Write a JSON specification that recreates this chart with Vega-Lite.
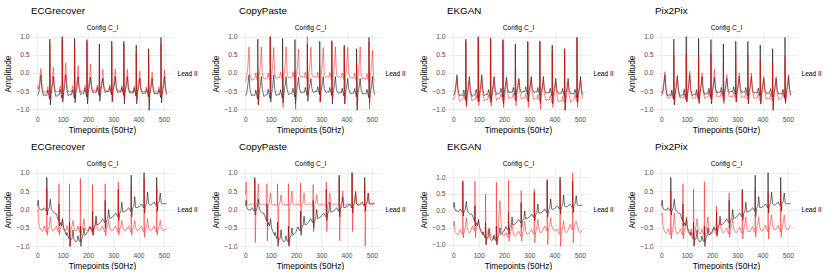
{
"$schema":"https://vega.github.io/schema/vega-lite/v6.json",
"padding":{"left":3,"top":6,"right":0,"bottom":0},
"datasets":{
"top":[
{"x":0,"g":-0.62,"e":-0.35,"c":-0.25,"k":-0.75,"p":-0.5},
{"x":2,"g":-0.6,"e":-0.45,"c":-0.2,"k":-0.7,"p":-0.55},
{"x":5,"g":-0.55,"e":-0.4,"c":-0.1,"k":-0.65,"p":-0.5},
{"x":10,"g":-0.3,"e":-0.1,"c":0.2,"k":-0.4,"p":-0.2},
{"x":14,"g":-0.05,"e":0.12,"c":0.72,"k":-0.15,"p":0.03},
{"x":18,"g":-0.45,"e":-0.35,"c":-0.05,"k":-0.55,"p":-0.5},
{"x":24,"g":-0.63,"e":-0.55,"c":-0.2,"k":-0.78,"p":-0.7},
{"x":30,"g":-0.6,"e":-0.52,"c":-0.18,"k":-0.75,"p":-0.68},
{"x":37,"g":-0.62,"e":-0.53,"c":-0.17,"k":-0.72,"p":-0.68},
{"x":41,"g":-0.47,"e":-0.38,"c":0.0,"k":-0.6,"p":-0.53},
{"x":45,"g":-0.62,"e":-0.53,"c":-0.17,"k":-0.72,"p":-0.68},
{"x":48,"g":-0.72,"e":-0.55,"c":-0.22,"k":-0.77,"p":-0.73},
{"x":49,"g":0.93,"e":0.8,"c":0.0,"k":0.85,"p":0.48},
{"x":51,"g":-0.88,"e":-0.7,"c":-0.85,"k":-0.95,"p":-0.85},
{"x":54,"g":-0.6,"e":-0.45,"c":-0.1,"k":-0.72,"p":-0.63},
{"x":59,"g":-0.35,"e":-0.2,"c":0.2,"k":-0.45,"p":-0.3},
{"x":63,"g":-0.1,"e":0.15,"c":0.72,"k":-0.2,"p":-0.05},
{"x":67,"g":-0.45,"e":-0.35,"c":-0.05,"k":-0.55,"p":-0.5},
{"x":73,"g":-0.65,"e":-0.53,"c":-0.17,"k":-0.77,"p":-0.68},
{"x":79,"g":-0.61,"e":-0.5,"c":-0.15,"k":-0.72,"p":-0.67},
{"x":86,"g":-0.6,"e":-0.52,"c":-0.15,"k":-0.73,"p":-0.7},
{"x":90,"g":-0.45,"e":-0.36,"c":0.0,"k":-0.61,"p":-0.55},
{"x":94,"g":-0.6,"e":-0.52,"c":-0.15,"k":-0.73,"p":-0.7},
{"x":97,"g":-0.7,"e":-0.54,"c":-0.2,"k":-0.78,"p":-0.75},
{"x":98,"g":1.0,"e":0.9,"c":1.0,"k":0.95,"p":0.55},
{"x":100,"g":-0.8,"e":-0.68,"c":-0.5,"k":-0.9,"p":-0.8},
{"x":103,"g":-0.58,"e":-0.45,"c":-0.1,"k":-0.73,"p":-0.65},
{"x":108,"g":-0.35,"e":-0.15,"c":0.2,"k":-0.45,"p":-0.3},
{"x":112,"g":-0.05,"e":0.28,"c":0.7,"k":-0.12,"p":0.05},
{"x":116,"g":-0.45,"e":-0.3,"c":-0.05,"k":-0.55,"p":-0.5},
{"x":122,"g":-0.63,"e":-0.52,"c":-0.15,"k":-0.78,"p":-0.7},
{"x":128,"g":-0.59,"e":-0.5,"c":-0.13,"k":-0.73,"p":-0.69},
{"x":135,"g":-0.6,"e":-0.52,"c":-0.13,"k":-0.73,"p":-0.7},
{"x":139,"g":-0.46,"e":-0.36,"c":0.02,"k":-0.6,"p":-0.55},
{"x":143,"g":-0.6,"e":-0.52,"c":-0.13,"k":-0.73,"p":-0.7},
{"x":146,"g":-0.7,"e":-0.55,"c":-0.18,"k":-0.78,"p":-0.75},
{"x":147,"g":0.95,"e":0.8,"c":0.1,"k":0.98,"p":0.5},
{"x":149,"g":-0.82,"e":-0.7,"c":-0.95,"k":-0.92,"p":-0.85},
{"x":152,"g":-0.58,"e":-0.45,"c":-0.1,"k":-0.72,"p":-0.65},
{"x":157,"g":-0.35,"e":-0.2,"c":0.2,"k":-0.45,"p":-0.3},
{"x":161,"g":-0.1,"e":0.2,"c":0.72,"k":-0.15,"p":0.0},
{"x":165,"g":-0.45,"e":-0.35,"c":-0.05,"k":-0.55,"p":-0.5},
{"x":171,"g":-0.6,"e":-0.52,"c":-0.13,"k":-0.76,"p":-0.7},
{"x":177,"g":-0.56,"e":-0.5,"c":-0.12,"k":-0.7,"p":-0.66},
{"x":184,"g":-0.56,"e":-0.5,"c":-0.12,"k":-0.7,"p":-0.66},
{"x":188,"g":-0.42,"e":-0.34,"c":0.02,"k":-0.58,"p":-0.52},
{"x":192,"g":-0.56,"e":-0.5,"c":-0.12,"k":-0.7,"p":-0.66},
{"x":195,"g":-0.66,"e":-0.53,"c":-0.17,"k":-0.76,"p":-0.72},
{"x":196,"g":0.92,"e":0.85,"c":0.05,"k":0.9,"p":0.55},
{"x":198,"g":-0.85,"e":-0.72,"c":-1.0,"k":-0.95,"p":-0.8},
{"x":201,"g":-0.55,"e":-0.45,"c":-0.1,"k":-0.7,"p":-0.6},
{"x":206,"g":-0.33,"e":-0.18,"c":0.2,"k":-0.45,"p":-0.28},
{"x":210,"g":-0.12,"e":0.25,"c":0.65,"k":-0.2,"p":0.1},
{"x":214,"g":-0.43,"e":-0.33,"c":-0.05,"k":-0.53,"p":-0.45},
{"x":220,"g":-0.55,"e":-0.5,"c":-0.12,"k":-0.72,"p":-0.66},
{"x":226,"g":-0.53,"e":-0.48,"c":-0.1,"k":-0.68,"p":-0.64},
{"x":233,"g":-0.53,"e":-0.48,"c":-0.12,"k":-0.68,"p":-0.65},
{"x":237,"g":-0.4,"e":-0.33,"c":0.02,"k":-0.56,"p":-0.5},
{"x":241,"g":-0.53,"e":-0.48,"c":-0.12,"k":-0.68,"p":-0.65},
{"x":244,"g":-0.62,"e":-0.5,"c":-0.17,"k":-0.74,"p":-0.7},
{"x":245,"g":0.8,"e":0.6,"c":1.0,"k":0.73,"p":0.3},
{"x":247,"g":-0.78,"e":-0.65,"c":-0.6,"k":-0.9,"p":-0.85},
{"x":250,"g":-0.52,"e":-0.43,"c":-0.1,"k":-0.68,"p":-0.6},
{"x":255,"g":-0.33,"e":-0.22,"c":0.2,"k":-0.45,"p":-0.32},
{"x":259,"g":-0.15,"e":0.1,"c":0.72,"k":-0.2,"p":-0.05},
{"x":263,"g":-0.43,"e":-0.35,"c":-0.05,"k":-0.55,"p":-0.5},
{"x":269,"g":-0.54,"e":-0.5,"c":-0.12,"k":-0.72,"p":-0.66},
{"x":275,"g":-0.51,"e":-0.47,"c":-0.1,"k":-0.68,"p":-0.64},
{"x":282,"g":-0.52,"e":-0.48,"c":-0.12,"k":-0.7,"p":-0.66},
{"x":286,"g":-0.38,"e":-0.32,"c":0.02,"k":-0.57,"p":-0.52},
{"x":290,"g":-0.52,"e":-0.48,"c":-0.12,"k":-0.7,"p":-0.66},
{"x":293,"g":-0.6,"e":-0.5,"c":-0.17,"k":-0.75,"p":-0.7},
{"x":294,"g":0.87,"e":0.75,"c":0.2,"k":0.85,"p":0.52},
{"x":296,"g":-0.8,"e":-0.7,"c":-0.8,"k":-0.95,"p":-0.8},
{"x":299,"g":-0.5,"e":-0.43,"c":-0.1,"k":-0.7,"p":-0.6},
{"x":304,"g":-0.33,"e":-0.2,"c":0.2,"k":-0.45,"p":-0.3},
{"x":308,"g":-0.1,"e":0.12,"c":0.7,"k":-0.15,"p":0.0},
{"x":312,"g":-0.43,"e":-0.35,"c":-0.05,"k":-0.55,"p":-0.5},
{"x":318,"g":-0.54,"e":-0.5,"c":-0.12,"k":-0.74,"p":-0.68},
{"x":324,"g":-0.52,"e":-0.48,"c":-0.1,"k":-0.7,"p":-0.66},
{"x":330,"g":-0.53,"e":-0.5,"c":-0.12,"k":-0.72,"p":-0.68},
{"x":334,"g":-0.4,"e":-0.34,"c":0.02,"k":-0.6,"p":-0.53},
{"x":338,"g":-0.53,"e":-0.5,"c":-0.12,"k":-0.72,"p":-0.68},
{"x":341,"g":-0.62,"e":-0.52,"c":-0.17,"k":-0.77,"p":-0.73},
{"x":342,"g":0.87,"e":0.8,"c":0.9,"k":0.88,"p":0.5},
{"x":344,"g":-0.85,"e":-0.7,"c":-0.7,"k":-1.0,"p":-0.85},
{"x":347,"g":-0.52,"e":-0.45,"c":-0.1,"k":-0.72,"p":-0.62},
{"x":352,"g":-0.35,"e":-0.22,"c":0.2,"k":-0.47,"p":-0.32},
{"x":356,"g":-0.1,"e":0.1,"c":0.72,"k":-0.2,"p":0.0},
{"x":360,"g":-0.45,"e":-0.37,"c":-0.05,"k":-0.57,"p":-0.5},
{"x":366,"g":-0.56,"e":-0.52,"c":-0.12,"k":-0.76,"p":-0.7},
{"x":372,"g":-0.54,"e":-0.5,"c":-0.1,"k":-0.73,"p":-0.68},
{"x":379,"g":-0.55,"e":-0.52,"c":-0.13,"k":-0.75,"p":-0.7},
{"x":383,"g":-0.42,"e":-0.36,"c":0.0,"k":-0.62,"p":-0.55},
{"x":387,"g":-0.55,"e":-0.52,"c":-0.13,"k":-0.75,"p":-0.7},
{"x":390,"g":-0.64,"e":-0.55,"c":-0.18,"k":-0.8,"p":-0.75},
{"x":391,"g":0.77,"e":0.6,"c":0.7,"k":0.62,"p":0.35},
{"x":393,"g":-0.85,"e":-0.72,"c":-0.85,"k":-0.95,"p":-0.85},
{"x":396,"g":-0.55,"e":-0.47,"c":-0.1,"k":-0.75,"p":-0.65},
{"x":401,"g":-0.36,"e":-0.25,"c":0.2,"k":-0.5,"p":-0.35},
{"x":405,"g":-0.15,"e":0.05,"c":0.7,"k":-0.25,"p":-0.1},
{"x":409,"g":-0.45,"e":-0.38,"c":-0.05,"k":-0.6,"p":-0.52},
{"x":415,"g":-0.57,"e":-0.53,"c":-0.14,"k":-0.8,"p":-0.72},
{"x":421,"g":-0.55,"e":-0.5,"c":-0.12,"k":-0.77,"p":-0.7},
{"x":428,"g":-0.56,"e":-0.53,"c":-0.15,"k":-0.78,"p":-0.72},
{"x":432,"g":-0.43,"e":-0.38,"c":0.0,"k":-0.65,"p":-0.57},
{"x":436,"g":-0.56,"e":-0.53,"c":-0.15,"k":-0.78,"p":-0.72},
{"x":439,"g":-0.66,"e":-0.57,"c":-0.2,"k":-0.83,"p":-0.78},
{"x":440,"g":0.67,"e":0.55,"c":0.3,"k":0.65,"p":0.3},
{"x":442,"g":-1.03,"e":-0.8,"c":-0.9,"k":-1.02,"p":-0.95},
{"x":445,"g":-0.58,"e":-0.5,"c":-0.12,"k":-0.78,"p":-0.68},
{"x":450,"g":-0.38,"e":-0.28,"c":0.2,"k":-0.52,"p":-0.38},
{"x":454,"g":-0.15,"e":0.02,"c":0.72,"k":-0.25,"p":-0.1},
{"x":458,"g":-0.47,"e":-0.4,"c":-0.05,"k":-0.62,"p":-0.55},
{"x":464,"g":-0.58,"e":-0.55,"c":-0.17,"k":-0.8,"p":-0.74},
{"x":470,"g":-0.57,"e":-0.52,"c":-0.15,"k":-0.76,"p":-0.72},
{"x":477,"g":-0.58,"e":-0.53,"c":-0.18,"k":-0.72,"p":-0.68},
{"x":481,"g":-0.45,"e":-0.38,"c":-0.02,"k":-0.6,"p":-0.53},
{"x":485,"g":-0.58,"e":-0.53,"c":-0.18,"k":-0.72,"p":-0.68},
{"x":488,"g":-0.68,"e":-0.56,"c":-0.22,"k":-0.78,"p":-0.74},
{"x":489,"g":0.98,"e":0.8,"c":0.85,"k":0.97,"p":0.45},
{"x":491,"g":-0.82,"e":-0.7,"c":-1.0,"k":-0.95,"p":-0.85},
{"x":494,"g":-0.58,"e":-0.48,"c":-0.12,"k":-0.72,"p":-0.63},
{"x":499,"g":-0.35,"e":-0.22,"c":0.2,"k":-0.45,"p":-0.3},
{"x":503,"g":-0.1,"e":0.08,"c":0.62,"k":-0.2,"p":-0.05},
{"x":507,"g":-0.45,"e":-0.38,"c":-0.1,"k":-0.55,"p":-0.45},
{"x":511,"g":-0.6,"e":-0.55,"c":-0.22,"k":-0.7,"p":-0.6}
],
"bot":[
{"x":0,"g":0.1,"e":-0.05,"c":0.4,"k":-0.45,"p":-0.15},
{"x":3,"g":0.25,"e":0.0,"c":0.75,"k":-0.3,"p":-0.1},
{"x":6,"g":0.02,"e":-0.4,"c":0.15,"k":-0.6,"p":-0.45},
{"x":12,"g":0.0,"e":-0.55,"c":0.12,"k":-0.68,"p":-0.6},
{"x":20,"g":-0.02,"e":-0.6,"c":0.14,"k":-0.7,"p":-0.65},
{"x":27,"g":0.05,"e":-0.45,"c":0.15,"k":-0.55,"p":-0.53},
{"x":32,"g":-0.02,"e":-0.57,"c":0.12,"k":-0.65,"p":-0.65},
{"x":36,"g":-0.05,"e":-0.62,"c":0.1,"k":-0.7,"p":-0.7},
{"x":37,"g":0.87,"e":0.6,"c":0.8,"k":0.9,"p":0.5},
{"x":39,"g":-0.15,"e":-0.7,"c":-0.9,"k":-0.8,"p":-0.8},
{"x":42,"g":-0.02,"e":-0.55,"c":0.1,"k":-0.65,"p":-0.62},
{"x":47,"g":0.05,"e":-0.45,"c":0.2,"k":-0.5,"p":-0.45},
{"x":51,"g":0.28,"e":-0.2,"c":0.7,"k":-0.2,"p":-0.1},
{"x":55,"g":0.0,"e":-0.5,"c":0.15,"k":-0.55,"p":-0.55},
{"x":61,"g":-0.05,"e":-0.58,"c":0.12,"k":-0.65,"p":-0.65},
{"x":67,"g":-0.1,"e":-0.56,"c":0.14,"k":-0.63,"p":-0.65},
{"x":75,"g":-0.12,"e":-0.45,"c":0.15,"k":-0.45,"p":-0.53},
{"x":80,"g":-0.25,"e":-0.57,"c":0.12,"k":-0.55,"p":-0.65},
{"x":84,"g":-0.32,"e":-0.62,"c":0.1,"k":-0.6,"p":-0.7},
{"x":85,"g":0.15,"e":0.7,"c":0.7,"k":0.88,"p":0.7},
{"x":87,"g":-0.45,"e":-0.7,"c":-0.85,"k":-0.8,"p":-0.8},
{"x":90,"g":-0.35,"e":-0.55,"c":0.1,"k":-0.55,"p":-0.62},
{"x":95,"g":-0.45,"e":-0.45,"c":0.2,"k":-0.4,"p":-0.45},
{"x":99,"g":-0.25,"e":-0.3,"c":0.45,"k":-0.3,"p":-0.2},
{"x":103,"g":-0.5,"e":-0.5,"c":0.15,"k":-0.45,"p":-0.55},
{"x":109,"g":-0.6,"e":-0.58,"c":0.12,"k":-0.6,"p":-0.65},
{"x":115,"g":-0.7,"e":-0.56,"c":0.14,"k":-0.65,"p":-0.65},
{"x":117,"g":-0.62,"e":-0.45,"c":0.15,"k":-0.65,"p":-0.53},
{"x":122,"g":-0.75,"e":-0.57,"c":0.12,"k":-0.75,"p":-0.65},
{"x":126,"g":-0.8,"e":-0.62,"c":0.1,"k":-0.8,"p":-0.7},
{"x":127,"g":-0.35,"e":0.7,"c":0.7,"k":0.5,"p":0.55},
{"x":129,"g":-1.0,"e":-1.0,"c":-0.9,"k":-1.0,"p":-0.95},
{"x":132,"g":-0.8,"e":-0.55,"c":0.1,"k":-0.75,"p":-0.62},
{"x":137,"g":-0.8,"e":-0.45,"c":0.2,"k":-0.6,"p":-0.45},
{"x":141,"g":-0.55,"e":-0.3,"c":0.4,"k":-0.5,"p":-0.25},
{"x":145,"g":-0.82,"e":-0.5,"c":0.15,"k":-0.65,"p":-0.55},
{"x":151,"g":-0.88,"e":-0.58,"c":0.12,"k":-0.8,"p":-0.65},
{"x":157,"g":-0.85,"e":-0.56,"c":0.14,"k":-0.85,"p":-0.65},
{"x":160,"g":-0.72,"e":-0.45,"c":0.15,"k":-0.75,"p":-0.53},
{"x":165,"g":-0.85,"e":-0.57,"c":0.12,"k":-0.85,"p":-0.65},
{"x":169,"g":-0.88,"e":-0.62,"c":0.1,"k":-0.9,"p":-0.7},
{"x":170,"g":-0.45,"e":0.85,"c":0.7,"k":0.85,"p":0.75},
{"x":172,"g":-1.0,"e":-0.75,"c":-0.95,"k":-1.0,"p":-0.85},
{"x":175,"g":-0.8,"e":-0.55,"c":0.1,"k":-0.85,"p":-0.62},
{"x":180,"g":-0.72,"e":-0.45,"c":0.2,"k":-0.2,"p":-0.45},
{"x":184,"g":-0.5,"e":-0.25,"c":0.5,"k":0.3,"p":-0.2},
{"x":188,"g":-0.7,"e":-0.5,"c":0.15,"k":-0.3,"p":-0.55},
{"x":194,"g":-0.65,"e":-0.58,"c":0.12,"k":-0.7,"p":-0.65},
{"x":200,"g":-0.6,"e":-0.56,"c":0.14,"k":-0.75,"p":-0.65},
{"x":208,"g":-0.47,"e":-0.45,"c":0.15,"k":-0.65,"p":-0.5},
{"x":213,"g":-0.55,"e":-0.57,"c":0.12,"k":-0.75,"p":-0.62},
{"x":217,"g":-0.58,"e":-0.62,"c":0.1,"k":-0.8,"p":-0.67},
{"x":218,"g":-0.05,"e":0.68,"c":0.72,"k":0.9,"p":0.1},
{"x":220,"g":-0.7,"e":-0.7,"c":-0.5,"k":-0.9,"p":-0.75},
{"x":223,"g":-0.5,"e":-0.55,"c":0.1,"k":-0.75,"p":-0.59},
{"x":228,"g":-0.42,"e":-0.45,"c":0.2,"k":-0.6,"p":-0.42},
{"x":232,"g":-0.18,"e":-0.3,"c":0.45,"k":-0.35,"p":-0.3},
{"x":236,"g":-0.42,"e":-0.5,"c":0.15,"k":-0.65,"p":-0.52},
{"x":242,"g":-0.4,"e":-0.58,"c":0.12,"k":-0.75,"p":-0.62},
{"x":248,"g":-0.36,"e":-0.56,"c":0.14,"k":-0.73,"p":-0.62},
{"x":258,"g":-0.25,"e":-0.45,"c":0.15,"k":-0.6,"p":-0.5},
{"x":263,"g":-0.32,"e":-0.57,"c":0.12,"k":-0.7,"p":-0.62},
{"x":267,"g":-0.36,"e":-0.62,"c":0.1,"k":-0.75,"p":-0.67},
{"x":268,"g":0.25,"e":0.7,"c":0.68,"k":0.6,"p":0.45},
{"x":270,"g":-0.5,"e":-0.72,"c":-0.6,"k":-0.9,"p":-0.75},
{"x":273,"g":-0.3,"e":-0.55,"c":0.1,"k":-0.7,"p":-0.59},
{"x":278,"g":-0.25,"e":-0.45,"c":0.2,"k":-0.55,"p":-0.42},
{"x":282,"g":0.0,"e":-0.28,"c":0.4,"k":-0.3,"p":-0.25},
{"x":286,"g":-0.25,"e":-0.5,"c":0.15,"k":-0.6,"p":-0.52},
{"x":292,"g":-0.22,"e":-0.58,"c":0.12,"k":-0.7,"p":-0.62},
{"x":298,"g":-0.2,"e":-0.56,"c":0.14,"k":-0.68,"p":-0.62},
{"x":310,"g":-0.1,"e":-0.45,"c":0.15,"k":-0.55,"p":-0.48},
{"x":315,"g":-0.16,"e":-0.57,"c":0.12,"k":-0.65,"p":-0.6},
{"x":319,"g":-0.2,"e":-0.62,"c":0.1,"k":-0.7,"p":-0.65},
{"x":320,"g":0.55,"e":0.75,"c":0.75,"k":0.65,"p":0.45},
{"x":322,"g":-0.3,"e":-0.7,"c":-0.6,"k":-0.95,"p":-0.8},
{"x":325,"g":-0.12,"e":-0.55,"c":0.1,"k":-0.65,"p":-0.57},
{"x":330,"g":-0.05,"e":-0.45,"c":0.2,"k":-0.5,"p":-0.4},
{"x":334,"g":0.2,"e":-0.3,"c":0.45,"k":-0.25,"p":-0.2},
{"x":338,"g":-0.07,"e":-0.5,"c":0.15,"k":-0.55,"p":-0.5},
{"x":344,"g":-0.06,"e":-0.58,"c":0.12,"k":-0.65,"p":-0.6},
{"x":350,"g":-0.04,"e":-0.56,"c":0.14,"k":-0.63,"p":-0.6},
{"x":361,"g":0.05,"e":-0.45,"c":0.15,"k":-0.45,"p":-0.46},
{"x":366,"g":-0.01,"e":-0.57,"c":0.12,"k":-0.55,"p":-0.58},
{"x":370,"g":-0.05,"e":-0.62,"c":0.1,"k":-0.6,"p":-0.63},
{"x":371,"g":0.93,"e":0.62,"c":0.85,"k":0.85,"p":0.55},
{"x":373,"g":-0.2,"e":-0.7,"c":-0.85,"k":-1.0,"p":-0.75},
{"x":376,"g":0.02,"e":-0.55,"c":0.1,"k":-0.55,"p":-0.55},
{"x":381,"g":0.08,"e":-0.45,"c":0.2,"k":-0.4,"p":-0.38},
{"x":385,"g":0.35,"e":-0.3,"c":0.5,"k":-0.2,"p":-0.2},
{"x":389,"g":0.05,"e":-0.5,"c":0.15,"k":-0.45,"p":-0.48},
{"x":395,"g":0.05,"e":-0.58,"c":0.12,"k":-0.55,"p":-0.58},
{"x":401,"g":0.07,"e":-0.56,"c":0.14,"k":-0.6,"p":-0.58},
{"x":412,"g":0.15,"e":-0.45,"c":0.15,"k":-0.55,"p":-0.43},
{"x":417,"g":0.08,"e":-0.57,"c":0.12,"k":-0.65,"p":-0.55},
{"x":421,"g":0.04,"e":-0.62,"c":0.1,"k":-0.7,"p":-0.6},
{"x":422,"g":1.0,"e":0.85,"c":1.0,"k":0.9,"p":0.45},
{"x":424,"g":-0.1,"e":-0.75,"c":-0.6,"k":-1.05,"p":-0.8},
{"x":427,"g":0.1,"e":-0.55,"c":0.1,"k":-0.65,"p":-0.52},
{"x":432,"g":0.18,"e":-0.45,"c":0.2,"k":-0.5,"p":-0.35},
{"x":436,"g":0.47,"e":-0.25,"c":0.5,"k":-0.3,"p":-0.15},
{"x":440,"g":0.15,"e":-0.5,"c":0.15,"k":-0.55,"p":-0.45},
{"x":446,"g":0.12,"e":-0.58,"c":0.12,"k":-0.65,"p":-0.55},
{"x":452,"g":0.13,"e":-0.56,"c":0.14,"k":-0.6,"p":-0.55},
{"x":462,"g":0.2,"e":-0.45,"c":0.15,"k":-0.4,"p":-0.43},
{"x":467,"g":0.13,"e":-0.57,"c":0.12,"k":-0.5,"p":-0.55},
{"x":471,"g":0.1,"e":-0.62,"c":0.1,"k":-0.55,"p":-0.6},
{"x":472,"g":0.87,"e":0.6,"c":0.7,"k":1.13,"p":0.5},
{"x":474,"g":-0.05,"e":-0.7,"c":-1.0,"k":-0.95,"p":-0.75},
{"x":477,"g":0.15,"e":-0.55,"c":0.1,"k":-0.5,"p":-0.52},
{"x":482,"g":0.22,"e":-0.45,"c":0.2,"k":-0.35,"p":-0.35},
{"x":486,"g":0.45,"e":-0.3,"c":0.45,"k":-0.3,"p":-0.15},
{"x":490,"g":0.17,"e":-0.5,"c":0.15,"k":-0.45,"p":-0.45},
{"x":496,"g":0.15,"e":-0.58,"c":0.12,"k":-0.6,"p":-0.55},
{"x":502,"g":0.16,"e":-0.56,"c":0.14,"k":-0.65,"p":-0.55},
{"x":511,"g":0.17,"e":-0.52,"c":0.15,"k":-0.55,"p":-0.42}
]
},
"vconcat":[
{"spacing":13,"hconcat":[
{"title":{"text":"ECGrecover"},"data":{"name":"top"},"width":142,"height":81,"layer":[
{"mark":{"type":"line","color":"#000000","opacity":0.7},"encoding":{"x":{"field":"x","type":"quantitative","scale":{"domain":[-25.5,536.5],"nice":false,"zero":false},"axis":{"orient":"bottom","values":[0,100,200,300,400,500],"title":"Timepoints (50Hz)"}},"y":{"field":"g","type":"quantitative","scale":{"domain":[-1.13,1.1],"nice":false,"zero":false},"axis":{"orient":"left","values":[-1,-0.5,0,0.5,1],"format":".1f","title":"Amplitude"}}}},
{"mark":{"type":"line","color":"#ff0000","opacity":0.6},"encoding":{"x":{"field":"x","type":"quantitative","scale":{"domain":[-25.5,536.5],"nice":false,"zero":false},"axis":{"orient":"top","values":[50,150,250,350,450],"labels":false,"gridWidth":0.5,"title":"Config C_I","titleFontSize":6.7,"titlePadding":3}},"y":{"field":"e","type":"quantitative","scale":{"domain":[-1.13,1.1],"nice":false,"zero":false},"axis":{"orient":"right","values":[-0.75,-0.25,0.25,0.75],"labels":false,"gridWidth":0.5,"title":"Lead II","titleAngle":0,"titleAlign":"left","titleBaseline":"middle","titleFontSize":6.6,"titlePadding":4}}}}
],"resolve":{"axis":{"x":"independent","y":"independent"}}},
{"title":{"text":"CopyPaste"},"data":{"name":"top"},"width":142,"height":81,"layer":[
{"mark":{"type":"line","color":"#000000","opacity":0.7},"encoding":{"x":{"field":"x","type":"quantitative","scale":{"domain":[-25.5,536.5],"nice":false,"zero":false},"axis":{"orient":"bottom","values":[0,100,200,300,400,500],"title":"Timepoints (50Hz)"}},"y":{"field":"g","type":"quantitative","scale":{"domain":[-1.13,1.1],"nice":false,"zero":false},"axis":{"orient":"left","values":[-1,-0.5,0,0.5,1],"format":".1f","title":"Amplitude"}}}},
{"mark":{"type":"line","color":"#ff0000","opacity":0.6},"encoding":{"x":{"field":"x","type":"quantitative","scale":{"domain":[-25.5,536.5],"nice":false,"zero":false},"axis":{"orient":"top","values":[50,150,250,350,450],"labels":false,"gridWidth":0.5,"title":"Config C_I","titleFontSize":6.7,"titlePadding":3}},"y":{"field":"c","type":"quantitative","scale":{"domain":[-1.13,1.1],"nice":false,"zero":false},"axis":{"orient":"right","values":[-0.75,-0.25,0.25,0.75],"labels":false,"gridWidth":0.5,"title":"Lead II","titleAngle":0,"titleAlign":"left","titleBaseline":"middle","titleFontSize":6.6,"titlePadding":4}}}}
],"resolve":{"axis":{"x":"independent","y":"independent"}}},
{"title":{"text":"EKGAN"},"data":{"name":"top"},"width":142,"height":81,"layer":[
{"mark":{"type":"line","color":"#000000","opacity":0.7},"encoding":{"x":{"field":"x","type":"quantitative","scale":{"domain":[-25.5,536.5],"nice":false,"zero":false},"axis":{"orient":"bottom","values":[0,100,200,300,400,500],"title":"Timepoints (50Hz)"}},"y":{"field":"g","type":"quantitative","scale":{"domain":[-1.13,1.1],"nice":false,"zero":false},"axis":{"orient":"left","values":[-1,-0.5,0,0.5,1],"format":".1f","title":"Amplitude"}}}},
{"mark":{"type":"line","color":"#ff0000","opacity":0.6},"encoding":{"x":{"field":"x","type":"quantitative","scale":{"domain":[-25.5,536.5],"nice":false,"zero":false},"axis":{"orient":"top","values":[50,150,250,350,450],"labels":false,"gridWidth":0.5,"title":"Config C_I","titleFontSize":6.7,"titlePadding":3}},"y":{"field":"k","type":"quantitative","scale":{"domain":[-1.13,1.1],"nice":false,"zero":false},"axis":{"orient":"right","values":[-0.75,-0.25,0.25,0.75],"labels":false,"gridWidth":0.5,"title":"Lead II","titleAngle":0,"titleAlign":"left","titleBaseline":"middle","titleFontSize":6.6,"titlePadding":4}}}}
],"resolve":{"axis":{"x":"independent","y":"independent"}}},
{"title":{"text":"Pix2Pix"},"data":{"name":"top"},"width":142,"height":81,"layer":[
{"mark":{"type":"line","color":"#000000","opacity":0.7},"encoding":{"x":{"field":"x","type":"quantitative","scale":{"domain":[-25.5,536.5],"nice":false,"zero":false},"axis":{"orient":"bottom","values":[0,100,200,300,400,500],"title":"Timepoints (50Hz)"}},"y":{"field":"g","type":"quantitative","scale":{"domain":[-1.13,1.1],"nice":false,"zero":false},"axis":{"orient":"left","values":[-1,-0.5,0,0.5,1],"format":".1f","title":"Amplitude"}}}},
{"mark":{"type":"line","color":"#ff0000","opacity":0.6},"encoding":{"x":{"field":"x","type":"quantitative","scale":{"domain":[-25.5,536.5],"nice":false,"zero":false},"axis":{"orient":"top","values":[50,150,250,350,450],"labels":false,"gridWidth":0.5,"title":"Config C_I","titleFontSize":6.7,"titlePadding":3}},"y":{"field":"p","type":"quantitative","scale":{"domain":[-1.13,1.1],"nice":false,"zero":false},"axis":{"orient":"right","values":[-0.75,-0.25,0.25,0.75],"labels":false,"gridWidth":0.5,"title":"Lead II","titleAngle":0,"titleAlign":"left","titleBaseline":"middle","titleFontSize":6.6,"titlePadding":4}}}}
],"resolve":{"axis":{"x":"independent","y":"independent"}}}
]},
{"spacing":13,"hconcat":[
{"title":{"text":"ECGrecover"},"data":{"name":"bot"},"width":142,"height":81,"layer":[
{"mark":{"type":"line","color":"#000000","opacity":0.7},"encoding":{"x":{"field":"x","type":"quantitative","scale":{"domain":[-25.5,536.5],"nice":false,"zero":false},"axis":{"orient":"bottom","values":[0,100,200,300,400,500],"title":"Timepoints (50Hz)"}},"y":{"field":"g","type":"quantitative","scale":{"domain":[-1.1,1.1],"nice":false,"zero":false},"axis":{"orient":"left","values":[-1,-0.5,0,0.5,1],"format":".1f","title":"Amplitude"}}}},
{"mark":{"type":"line","color":"#ff0000","opacity":0.6},"encoding":{"x":{"field":"x","type":"quantitative","scale":{"domain":[-25.5,536.5],"nice":false,"zero":false},"axis":{"orient":"top","values":[50,150,250,350,450],"labels":false,"gridWidth":0.5,"title":"Config C_I","titleFontSize":6.7,"titlePadding":3}},"y":{"field":"e","type":"quantitative","scale":{"domain":[-1.1,1.1],"nice":false,"zero":false},"axis":{"orient":"right","values":[-0.75,-0.25,0.25,0.75],"labels":false,"gridWidth":0.5,"title":"Lead II","titleAngle":0,"titleAlign":"left","titleBaseline":"middle","titleFontSize":6.6,"titlePadding":4}}}}
],"resolve":{"axis":{"x":"independent","y":"independent"}}},
{"title":{"text":"CopyPaste"},"data":{"name":"bot"},"width":142,"height":81,"layer":[
{"mark":{"type":"line","color":"#000000","opacity":0.7},"encoding":{"x":{"field":"x","type":"quantitative","scale":{"domain":[-25.5,536.5],"nice":false,"zero":false},"axis":{"orient":"bottom","values":[0,100,200,300,400,500],"title":"Timepoints (50Hz)"}},"y":{"field":"g","type":"quantitative","scale":{"domain":[-1.1,1.1],"nice":false,"zero":false},"axis":{"orient":"left","values":[-1,-0.5,0,0.5,1],"format":".1f","title":"Amplitude"}}}},
{"mark":{"type":"line","color":"#ff0000","opacity":0.6},"encoding":{"x":{"field":"x","type":"quantitative","scale":{"domain":[-25.5,536.5],"nice":false,"zero":false},"axis":{"orient":"top","values":[50,150,250,350,450],"labels":false,"gridWidth":0.5,"title":"Config C_I","titleFontSize":6.7,"titlePadding":3}},"y":{"field":"c","type":"quantitative","scale":{"domain":[-1.1,1.1],"nice":false,"zero":false},"axis":{"orient":"right","values":[-0.75,-0.25,0.25,0.75],"labels":false,"gridWidth":0.5,"title":"Lead II","titleAngle":0,"titleAlign":"left","titleBaseline":"middle","titleFontSize":6.6,"titlePadding":4}}}}
],"resolve":{"axis":{"x":"independent","y":"independent"}}},
{"title":{"text":"EKGAN"},"data":{"name":"bot"},"width":142,"height":81,"layer":[
{"mark":{"type":"line","color":"#000000","opacity":0.7},"encoding":{"x":{"field":"x","type":"quantitative","scale":{"domain":[-25.5,536.5],"nice":false,"zero":false},"axis":{"orient":"bottom","values":[0,100,200,300,400,500],"title":"Timepoints (50Hz)"}},"y":{"field":"g","type":"quantitative","scale":{"domain":[-1.16,1.24],"nice":false,"zero":false},"axis":{"orient":"left","values":[-1,-0.5,0,0.5,1],"format":".1f","title":"Amplitude"}}}},
{"mark":{"type":"line","color":"#ff0000","opacity":0.6},"encoding":{"x":{"field":"x","type":"quantitative","scale":{"domain":[-25.5,536.5],"nice":false,"zero":false},"axis":{"orient":"top","values":[50,150,250,350,450],"labels":false,"gridWidth":0.5,"title":"Config C_I","titleFontSize":6.7,"titlePadding":3}},"y":{"field":"k","type":"quantitative","scale":{"domain":[-1.16,1.24],"nice":false,"zero":false},"axis":{"orient":"right","values":[-0.75,-0.25,0.25,0.75],"labels":false,"gridWidth":0.5,"title":"Lead II","titleAngle":0,"titleAlign":"left","titleBaseline":"middle","titleFontSize":6.6,"titlePadding":4}}}}
],"resolve":{"axis":{"x":"independent","y":"independent"}}},
{"title":{"text":"Pix2Pix"},"data":{"name":"bot"},"width":142,"height":81,"layer":[
{"mark":{"type":"line","color":"#000000","opacity":0.7},"encoding":{"x":{"field":"x","type":"quantitative","scale":{"domain":[-25.5,536.5],"nice":false,"zero":false},"axis":{"orient":"bottom","values":[0,100,200,300,400,500],"title":"Timepoints (50Hz)"}},"y":{"field":"g","type":"quantitative","scale":{"domain":[-1.1,1.1],"nice":false,"zero":false},"axis":{"orient":"left","values":[-1,-0.5,0,0.5,1],"format":".1f","title":"Amplitude"}}}},
{"mark":{"type":"line","color":"#ff0000","opacity":0.6},"encoding":{"x":{"field":"x","type":"quantitative","scale":{"domain":[-25.5,536.5],"nice":false,"zero":false},"axis":{"orient":"top","values":[50,150,250,350,450],"labels":false,"gridWidth":0.5,"title":"Config C_I","titleFontSize":6.7,"titlePadding":3}},"y":{"field":"p","type":"quantitative","scale":{"domain":[-1.1,1.1],"nice":false,"zero":false},"axis":{"orient":"right","values":[-0.75,-0.25,0.25,0.75],"labels":false,"gridWidth":0.5,"title":"Lead II","titleAngle":0,"titleAlign":"left","titleBaseline":"middle","titleFontSize":6.6,"titlePadding":4}}}}
],"resolve":{"axis":{"x":"independent","y":"independent"}}}
]}
],
"spacing":8,
"config":{
"font":"Liberation Sans",
"view":{"stroke":null},
"line":{"strokeWidth":0.8},
"axis":{"grid":true,"gridColor":"#ebebeb","gridWidth":0.9,"ticks":false,"domain":false,"labelFontSize":6.7,"labelColor":"#4d4d4d","labelPadding":2,"titleFontSize":8.3,"titleFontWeight":"normal","titleColor":"#000000","titlePadding":3},
"title":{"anchor":"start","frame":"group","fontSize":9.8,"fontWeight":"normal","color":"#000000","offset":8}
}
}
